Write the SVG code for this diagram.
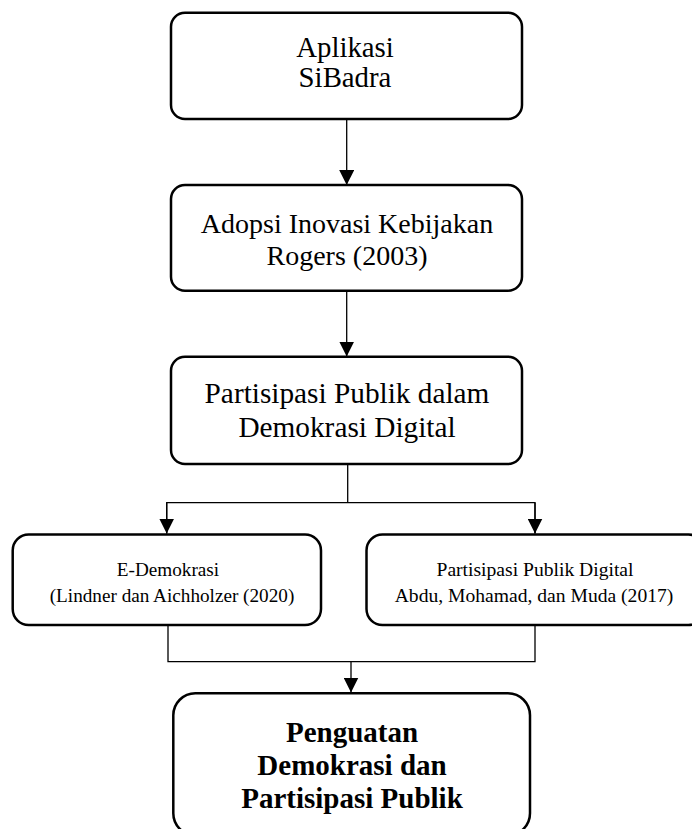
<svg xmlns="http://www.w3.org/2000/svg" width="692" height="829" viewBox="0 0 692 829">
<style>
.box{fill:#fff;stroke:#000;stroke-width:2.5}
.t{font-family:"Liberation Serif","Times New Roman",serif;fill:#000;text-anchor:middle}
.c{fill:none;stroke:#000;stroke-width:1.3}
</style>
<defs>
<marker id="ah" markerUnits="userSpaceOnUse" markerWidth="15" markerHeight="15" refX="14" refY="7" orient="auto" viewBox="0 0 14 14">
<path d="M0,0 L14,7 L0,14 z" fill="#000"/>
</marker>
</defs>
<rect width="692" height="829" fill="#fff"/>
<g id="connectors">
<line class="c" x1="346.7" y1="119" x2="346.7" y2="185" marker-end="url(#ah)"/>
<line class="c" x1="346.7" y1="290.7" x2="346.7" y2="356.5" marker-end="url(#ah)"/>
<polyline class="c" points="347.7,464 347.7,502.7"/>
<polyline class="c" points="166.7,533.5 166.7,502.7 535,502.7 535,533.5"/>
<line class="c" x1="166.7" y1="502.7" x2="166.7" y2="533.5" marker-end="url(#ah)"/>
<line class="c" x1="535" y1="502.7" x2="535" y2="533.5" marker-end="url(#ah)"/>
<polyline class="c" points="168,625 168,661.7 535,661.7 535,625"/>
<line class="c" x1="351" y1="661.7" x2="351" y2="692.5" marker-end="url(#ah)"/>
</g>
<g id="n1">
<rect class="box" x="171" y="12.7" width="351" height="106.3" rx="14"/>
<text class="t" x="345" y="57" font-size="28.8">Aplikasi</text>
<text class="t" x="345" y="87" font-size="28.8">SiBadra</text>
</g>
<g id="n2">
<rect class="box" x="171" y="185" width="351" height="105.7" rx="14"/>
<text class="t" x="347" y="233" font-size="28">Adopsi Inovasi Kebijakan</text>
<text class="t" x="347" y="265" font-size="28">Rogers (2003)</text>
</g>
<g id="n3">
<rect class="box" x="171" y="356.7" width="351" height="107.3" rx="14"/>
<text class="t" x="347" y="403" font-size="29.3">Partisipasi Publik dalam</text>
<text class="t" x="347" y="437" font-size="29.3">Demokrasi Digital</text>
</g>
<g id="n4">
<rect class="box" x="12.7" y="534.5" width="308.3" height="90.5" rx="16"/>
<text class="t" x="168" y="576" font-size="19.2">E-Demokrasi</text>
<text class="t" x="172" y="601.7" font-size="19.2">(Lindner dan Aichholzer (2020)</text>
</g>
<g id="n5">
<rect class="box" x="366.5" y="534.5" width="338" height="90.5" rx="16"/>
<text class="t" x="535" y="576" font-size="19.6">Partisipasi Publik Digital</text>
<text class="t" x="534" y="601.7" font-size="19.6">Abdu, Mohamad, dan Muda (2017)</text>
</g>
<g id="n6">
<rect class="box" x="173.3" y="693.3" width="356.7" height="142" rx="22"/>
<text class="t" x="352" y="742" font-size="29" font-weight="bold">Penguatan</text>
<text class="t" x="352" y="775" font-size="29" font-weight="bold">Demokrasi dan</text>
<text class="t" x="352" y="808" font-size="29" font-weight="bold">Partisipasi Publik</text>
</g>
</svg>
